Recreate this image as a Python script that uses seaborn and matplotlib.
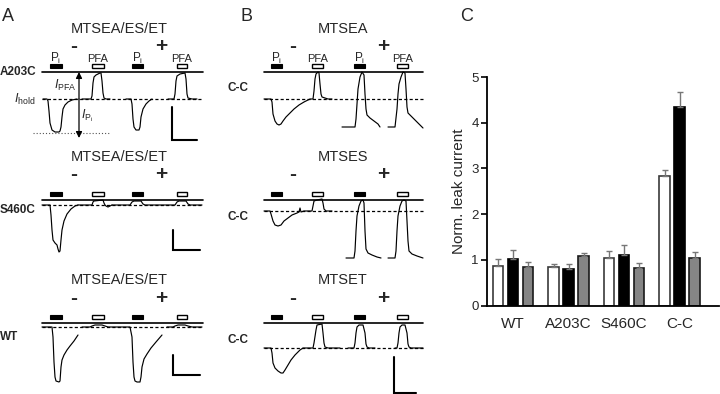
import numpy as np
import pandas as pd
import matplotlib
matplotlib.use("Agg")
import matplotlib.pyplot as plt
from matplotlib.patches import Rectangle
import seaborn as sns

# ----------------------------- DATA -----------------------------------
# Panel C: normalised leak current (mean and upper SEM)
groups = ["WT", "A203C", "S460C", "C-C"]
reagents = ["MTSEA", "MTSES", "MTSET"]
mean_mtsea = [0.87, 0.85, 1.04, 2.84]
mean_mtses = [1.01, 0.80, 1.10, 4.34]
mean_mtset = [0.84, 1.09, 0.83, 1.05]
sem_mtsea = [0.14, 0.06, 0.15, 0.12]
sem_mtses = [0.20, 0.11, 0.22, 0.34]
sem_mtset = [0.11, 0.06, 0.10, 0.11]
yticks_c = [0, 1, 2, 3, 4, 5]

# Panels A/B: application periods (s from trace start)
pi_on_A = [(8, 20), (90, 101)]
pfa_on_A = [(50, 62), (135, 145)]
pi_on_B = [(7, 18), (90, 101)]
pfa_on_B = [(48, 59), (133, 144)]

# level of zero current relative to I_hold (a.u.) per row
i_pfa_A203C, i_pfa_S460C, i_pfa_WT = 27, 5, 4
i_pfa_CC_mtsea, i_pfa_CC_mtses, i_pfa_CC_mtset = 27, 11, 25

# Current traces: list of segments, each (time, current rel. to I_hold)
trace_A203C = [
    ([1, 5, 6, 7, 8, 10, 13, 17, 18, 19, 20, 21, 23, 26, 30, 35],
     [0, 0, -2, -12, -24, -31, -33, -33, -32, -28, -18, -10, -6, -3, -1, 0]),
    ([40, 49, 50, 51, 52, 54, 58, 59, 60, 61, 62, 64, 68],
     [0, 0, 3, 16, 22, 24, 26, 26, 18, 6, 1, 0, 0]),
    ([84, 89, 90, 91, 92, 94, 97, 98, 99, 101, 104, 107, 110],
     [0, 0, -5, -20, -28, -31, -31, -28, -18, -10, -5, -2, 0]),
    ([126, 132, 133, 134, 135, 138, 143, 144, 145, 146, 150, 155],
     [0, 0, 5, 18, 23, 25, 26, 20, 5, 1, 0, 0]),
]
trace_S460C = [
    ([0, 8, 9, 10, 11, 13, 15, 16, 17, 18, 19, 20, 22, 25, 29, 33, 36],
     [0, 0, -10, -25, -35, -38, -40, -44, -47, -46, -35, -25, -16, -9, -4, -1, 0]),
    ([36, 50, 51, 52, 61, 62, 63, 64, 66, 68, 70],
     [0, 0, 3, 4, 5, 2, 0, -1, -2, -1, 0]),
    ([70, 88, 90, 92, 99, 101, 103, 133, 135, 137, 144, 146, 148, 160],
     [0, 0, 3, 4, 4, 1, 0, 0, 3, 4, 4, 1, 0, 0]),
]
trace_WT = [
    ([0, 10, 11, 12, 13, 14, 17, 18, 19, 20, 22, 25, 28, 32, 36],
     [0, 0, -10, -35, -50, -54, -55, -54, -40, -33, -28, -23, -19, -14, -8]),
    ([40, 48, 50, 53, 60, 63, 66, 88, 90, 91, 92, 93, 95, 98, 99, 100, 102, 105, 109, 114, 120],
     [0, 0, 1, 2, 2, 1, 0, 0, -10, -35, -50, -54, -55, -55, -50, -40, -32, -27, -21, -15, -8]),
    ([125, 131, 133, 136, 143, 146, 150, 160],
     [0, 0, 1, 2, 2, 1, 0, 0]),
]
trace_CC_mtsea = [
    ([0, 7, 8, 9, 11, 13, 15, 17, 19, 22, 26, 30, 35, 40, 46, 49, 50, 51, 52, 54, 55, 56, 57, 58, 61, 64, 68],
     [0, 0, -3, -15, -22, -25, -26, -25, -22, -18, -14, -10, -6, -3, 0, 0, 8, 20, 25, 27, 26, 15, 5, 2, 1, 0, 0]),
    ([78, 91, 92, 93, 94, 96, 98, 100, 101, 102, 103, 106, 110, 114, 116],
     [-28, -28, -20, -5, 10, 22, 27, 24, 5, -10, -16, -19, -22, -25, -28]),
    ([124, 131, 133, 134, 135, 137, 139, 141, 142, 143, 144, 148, 152, 156, 159],
     [-28, -28, -10, 5, 15, 22, 27, 26, 10, -8, -14, -18, -22, -26, -29]),
]
trace_CC_mtses = [
    ([0, 6, 7, 9, 11, 14, 17, 20, 24, 28, 33, 35, 36, 37, 40, 48, 49, 50, 53, 58, 59, 60, 62, 68],
     [0, 0, -3, -10, -14, -15, -14, -10, -7, -4, -2, -1, 3, -1, 0, 0, 5, 10, 11, 12, 8, 2, 0, 0]),
    ([82, 90, 91, 92, 93, 95, 97, 99, 100, 101, 102, 104, 108, 113, 117],
     [-47, -47, -40, -20, -5, 5, 10, 11, 8, -20, -38, -42, -44, -46, -47]),
    ([124, 131, 132, 133, 134, 136, 138, 140, 142, 143, 144, 145, 148, 153, 159],
     [-47, -47, -40, -20, -5, 5, 10, 11, 10, -10, -30, -40, -43, -45, -47]),
]
trace_CC_mtset = [
    ([0, 7, 8, 9, 11, 14, 17, 19, 21, 24, 27, 31, 36, 39, 49, 50, 52, 53, 58, 59, 60, 61, 64, 76],
     [0, 0, -5, -15, -20, -23, -25, -25, -22, -17, -12, -7, -2, 0, 0, 5, 18, 23, 24, 15, 5, 1, 0, 0]),
    ([84, 90, 91, 92, 93, 95, 99, 101, 102, 103, 105, 111],
     [0, 0, 5, 15, 21, 23, 23, 15, 4, 1, 0, 0]),
    ([131, 133, 134, 135, 136, 138, 141, 143, 144, 145, 147, 159],
     [0, 0, 5, 15, 21, 23, 23, 15, 4, 1, 0, 0]),
]

# ----------------------------- STYLE ----------------------------------
sns.set_style("ticks")
plt.rcParams["font.family"] = ["Liberation Sans", "DejaVu Sans"]
plt.rcParams["mathtext.fontset"] = "custom"
plt.rcParams["mathtext.rm"] = "Liberation Sans"
plt.rcParams["mathtext.it"] = "Liberation Sans:italic"
plt.rcParams["mathtext.bf"] = "Liberation Sans:bold"

FW, FH = 720, 394
fig = plt.figure(figsize=(FW / 100, FH / 100), dpi=100)


def px_axes(x0, y0, x1, y1):
    return fig.add_axes([x0 / FW, 1 - y1 / FH, (x1 - x0) / FW, (y1 - y0) / FH])


# layout of the six trace rows (pixel geometry of the reference)
rows = [
    dict(col="A", band=(0, 142), dash=99, name="A203C", title="MTSEA/ES/ET",
         trace=trace_A203C, zero=i_pfa_A203C, lab_dy=27, scale=(130, -8, -41, 25), labels=True),
    dict(col="A", band=(142, 260), dash=205, name="S460C", title="MTSEA/ES/ET",
         trace=trace_S460C, zero=i_pfa_S460C, lab_dy=-5, scale=(131, -25, -45, 27), labels=False),
    dict(col="A", band=(260, 394), dash=327, name="WT", title="MTSEA/ES/ET",
         trace=trace_WT, zero=i_pfa_WT, lab_dy=-10, scale=(131, -28, -48, 27), labels=False),
    dict(col="B", band=(0, 142), dash=99, name="C-C", title="MTSEA",
         trace=trace_CC_mtsea, zero=i_pfa_CC_mtsea, lab_dy=11, scale=None, labels=True),
    dict(col="B", band=(142, 262), dash=211, name="C-C", title="MTSES",
         trace=trace_CC_mtses, zero=i_pfa_CC_mtses, lab_dy=-6, scale=None, labels=False),
    dict(col="B", band=(262, 394), dash=348, name="C-C", title="MTSET",
         trace=trace_CC_mtset, zero=i_pfa_CC_mtset, lab_dy=8, scale=(130, -9, -45, 22), labels=False),
]
cols = dict(A=dict(x=(0, 220), origin=42, end=161, pi=pi_on_A, pfa=pfa_on_A,
                   title_t=77, minus_t=32, plus_t=119, label_t=-42),
            B=dict(x=(222, 440), origin=264, end=159, pi=pi_on_B, pfa=pfa_on_B,
                   title_t=79, minus_t=29, plus_t=119, label_t=-36))

row_axes = []
for r in rows:
    c = cols[r["col"]]
    ax = px_axes(c["x"][0], r["band"][0], c["x"][1], r["band"][1])
    ax.set_xlim(c["x"][0] - c["origin"], c["x"][1] - c["origin"])
    ax.set_ylim(r["dash"] - r["band"][1], r["dash"] - r["band"][0])
    ax.axis("off")
    zl = r["zero"]
    end = c["end"]
    ax.plot([0, end], [zl, zl], color="black", lw=1.2)
    ax.plot([0, end], [0, 0], color="black", lw=0.9, ls=(0, (2.5, 1.8)))
    for t, i in r["trace"]:
        ax.plot(t, i, color="black", lw=0.85)
    for t0, t1 in c["pi"]:
        ax.add_patch(Rectangle((t0, zl + 4), t1 - t0, 4.5, fc="black", ec="black", lw=0.8))
    for t0, t1 in c["pfa"]:
        ax.add_patch(Rectangle((t0, zl + 4), t1 - t0, 4.5, fc="white", ec="black", lw=1.0))
    if r["labels"]:
        for t0, t1 in c["pi"]:
            ax.text((t0 + t1) / 2, zl + 10, r"$\mathrm{P_i}$", ha="center", va="baseline", fontsize=8.5)
        for t0, t1 in c["pfa"]:
            ax.text((t0 + t1) / 2, zl + 10, "PFA", ha="center", va="baseline", fontsize=8)
    ax.text(c["title_t"], zl + 43, r["title"], ha="center", va="center", fontsize=10.5)
    ax.text(c["minus_t"], zl + 25, "-", ha="center", va="center", fontsize=15, fontweight="bold")
    ax.text(c["plus_t"], zl + 25, "+", ha="center", va="center", fontsize=15, fontweight="bold")
    ax.text(c["label_t"], r["lab_dy"], r["name"], ha="left", va="center", fontsize=8.5, fontweight="bold")
    if r["scale"] is not None:
        sx, sy0, sy1, sw = r["scale"]
        ax.plot([sx, sx, sx + sw], [sy0, sy1, sy1], color="black", lw=1.5, solid_joinstyle="miter")
    row_axes.append(ax)

# extra annotation on A203C row
axa = row_axes[0]
axa.annotate("", xy=(37, 27), xytext=(37, 0),
             arrowprops=dict(arrowstyle="-|>", lw=0.9, color="black", mutation_scale=9, shrinkA=0, shrinkB=0))
axa.annotate("", xy=(37, -39), xytext=(37, 0),
             arrowprops=dict(arrowstyle="-|>", lw=0.9, color="black", mutation_scale=9, shrinkA=0, shrinkB=0))
axa.plot([-9, 68], [-34, -34], color="#555555", lw=0.8, ls=(0, (1, 1.8)))
axa.text(34, 14, r"$I_{\mathrm{PFA}}$", ha="right", va="center", fontsize=9)
axa.text(39, -17, r"$I_{\mathrm{P_i}}$", ha="left", va="center", fontsize=9)
axa.text(-7, 0, r"$I_{\mathrm{hold}}$", ha="right", va="center", fontsize=9)
axa.text(-40, 91, "A", ha="left", va="top", fontsize=13)
row_axes[3].text(-24, 91, "B", ha="left", va="top", fontsize=13)

for ax in row_axes:
    for ch in ax.get_children():
        ch.set_clip_on(False)

# ----------------------------- PANEL C --------------------------------
fig.text(460 / FW, 1 - 8 / FH, "C", ha="left", va="top", fontsize=13)
axc = px_axes(487, 77, 719, 305.5)
df = pd.DataFrame({
    "group": groups * 3,
    "reagent": np.repeat(reagents, len(groups)),
    "value": mean_mtsea + mean_mtses + mean_mtset,
})
sns.barplot(data=df, x="group", y="value", hue="reagent", order=groups, hue_order=reagents,
            palette=["white", "black", "#858585"], width=0.813, gap=0.3, errorbar=None,
            legend=False, edgecolor="black", linewidth=1.2, ax=axc)
sems = [sem_mtsea, sem_mtses, sem_mtset]
edge_cols = ["#3a3a3a", "black", "#1a1a1a"]
for cont, sem, ec in zip(axc.containers, sems, edge_cols):
    for p, e in zip(cont.patches, sem):
        p.set_edgecolor(ec)
        xc = p.get_x() + p.get_width() / 2
        top = p.get_height()
        axc.errorbar([xc], [top], yerr=[[0], [e]], fmt="none", ecolor="#777777",
                     elinewidth=1.0, capsize=2.5, capthick=1.0, zorder=1)
axc.set_xlim(-0.47, 3.71)
axc.set_ylim(0, 5)
axc.set_yticks(yticks_c)
axc.set_xlabel("")
axc.set_ylabel("Norm. leak current", fontsize=11, labelpad=4)
axc.tick_params(axis="y", length=4, width=1.2, labelsize=9.5, pad=2, color="black")
axc.tick_params(axis="x", length=0, labelsize=11, pad=8)
sns.despine(ax=axc)
for s in ["left", "bottom"]:
    axc.spines[s].set_linewidth(1.3)
    axc.spines[s].set_color("black")

fig.savefig("out.png", dpi=100)
